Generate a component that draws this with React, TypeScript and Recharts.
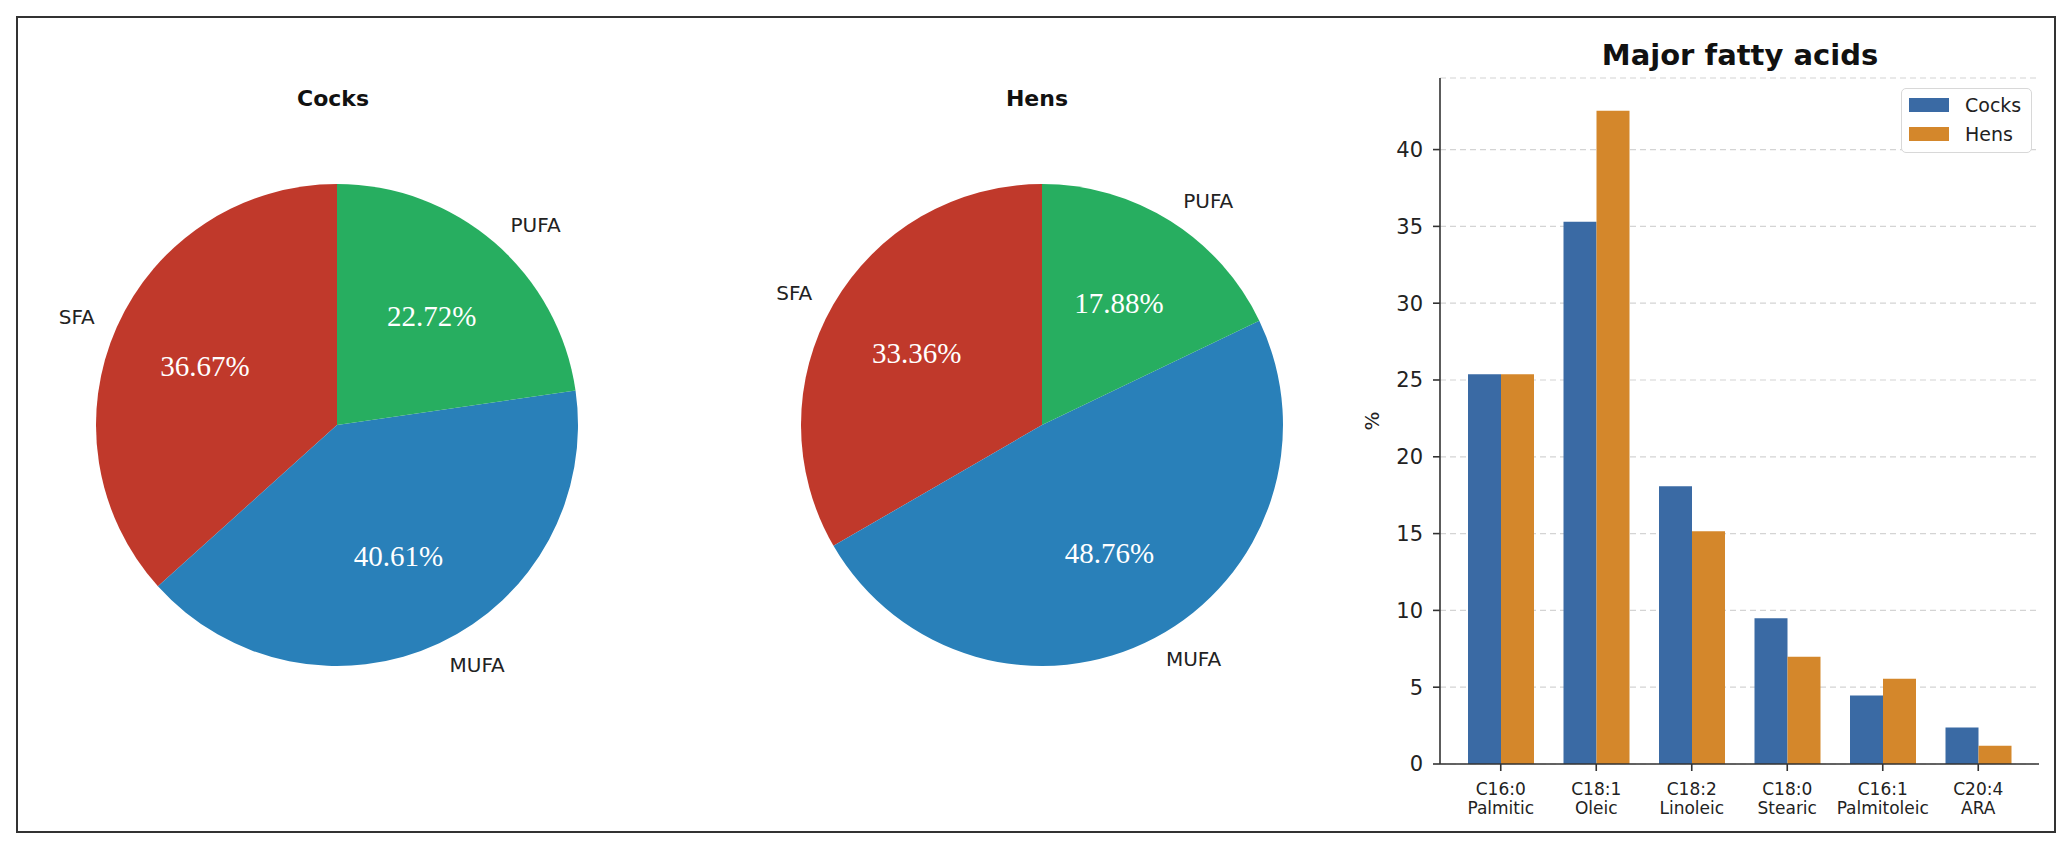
import React from "react";
import { PieChart, Pie, Cell, BarChart, Bar, XAxis, YAxis, CartesianGrid } from "recharts";

// lipid classes (pies)
const groups = ["SFA", "MUFA", "PUFA"];
const cocksShares = [36.67, 40.61, 22.72];
const hensShares = [33.36, 48.76, 17.88];
const groupColors = ["#c0392b", "#2980b9", "#27ae60"];

// major fatty acids (bars)
const acids = ["C16:0\nPalmitic", "C18:1\nOleic", "C18:2\nLinoleic", "C18:0\nStearic", "C16:1\nPalmitoleic", "C20:4\nARA"];
const cocksAcids = [25.37, 35.3, 18.09, 9.49, 4.46, 2.37];
const hensAcids = [25.37, 42.52, 15.15, 6.99, 5.55, 1.18];
const yTicks = [0, 5, 10, 15, 20, 25, 30, 35, 40];

const COCK = "#3a6aa4";
const HEN = "#d4872b";
const SANS = "DejaVu Sans";
const SERIF = "Liberation Serif";
const RAD = Math.PI / 180;

const pieLabel = (p: any) => {
  const { cx, cy, midAngle, outerRadius, value } = p;
  const name = p.payload?.name ?? p.name;
  const c = Math.cos(-midAngle * RAD);
  const s = Math.sin(-midAngle * RAD);
  const ox = cx + outerRadius * 1.1 * c;
  const oy = cy + outerRadius * 1.1 * s;
  const ix = cx + outerRadius * 0.6 * c;
  const iy = cy + outerRadius * 0.6 * s;
  return (
    <g>
      <text x={ox} y={oy} textAnchor={c >= 0 ? "start" : "end"} dominantBaseline="central"
        fontFamily={SANS} fontSize={20} fill="#222">{name}</text>
      <text x={ix} y={iy} textAnchor="middle" dominantBaseline="central"
        fontFamily={SERIF} fontSize={29} fill="#fff">{value.toFixed(2)}%</text>
    </g>
  );
};

const FatPie = ({ shares }: { shares: number[] }) => {
  const data = groups.map((g, i) => ({ name: g, value: shares[i] }));
  return (
    <PieChart width={680} height={846}>
      <Pie data={data} dataKey="value" nameKey="name" cx={332} cy={420} outerRadius={241}
        startAngle={90} endAngle={450} stroke="none" label={pieLabel} labelLine={false}
        isAnimationActive={false}>
        {data.map((d, i) => <Cell key={d.name} fill={groupColors[i]} />)}
      </Pie>
    </PieChart>
  );
};

const AcidTick = ({ x, y, payload }: any) => {
  const [code, name] = String(payload.value).split("\n");
  return (
    <text x={x} y={y} textAnchor="middle" fontFamily={SANS} fontSize={17} fill="#222">
      <tspan x={x} dy={22}>{code}</tspan>
      <tspan x={x} dy={19}>{name}</tspan>
    </text>
  );
};

const PctLabel = (props: any) => {
  const vb = props.viewBox;
  const x = vb.x + 42;
  const y = vb.y + vb.height / 2;
  return (
    <text x={x} y={y} transform={`rotate(-90, ${x}, ${y})`} textAnchor="middle" dominantBaseline="central"
      fontFamily={SANS} fontSize={20} fill="#222">%</text>
  );
};

const title = (cx: number, top: number, size: number): React.CSSProperties => ({
  position: "absolute", left: cx - 200, top, width: 400, textAlign: "center",
  fontFamily: SANS, fontWeight: "bold", fontSize: size, lineHeight: 1, color: "#111",
});

export default function App() {
  const barData = acids.map((a, i) => ({ acid: a, cocks: cocksAcids[i], hens: hensAcids[i] }));
  return (
    <div style={{ position: "relative", width: 2072, height: 846, background: "#fff", overflow: "hidden" }}>
      <style>{`body{margin:0}`}</style>
      <div style={{ position: "absolute", left: 16, top: 16, width: 2040, height: 817, border: "2px solid #333", boxSizing: "border-box" }} />

      <div style={title(333, 88, 22)}>Cocks</div>
      <div style={title(1037, 88, 22)}>Hens</div>
      <div style={title(1740, 41, 29)}>Major fatty acids</div>

      <div style={{ position: "absolute", left: 0, top: 0 }}>
        <FatPie shares={cocksShares} />
      </div>
      <div style={{ position: "absolute", left: 705, top: 0 }}>
        <FatPie shares={hensShares} />
      </div>

      <div style={{ position: "absolute", left: 1330, top: 0 }}>
        <BarChart width={742} height={846} data={barData} barGap={0}
          margin={{ top: 78, right: 33, bottom: 22, left: 0 }}>
          <CartesianGrid vertical={false} stroke="#d4d4d4" strokeDasharray="6 4" strokeWidth={1.2} />
          <XAxis dataKey="acid" interval={0} height={60} tick={<AcidTick />} tickSize={7}
            padding={{ left: 13, right: 13 }} axisLine={{ stroke: "#333", strokeWidth: 1.6 }}
            tickLine={{ stroke: "#333", strokeWidth: 1.6 }} />
          <YAxis type="number" domain={[0, 44.66]} ticks={yTicks} width={110} tickSize={7} tickMargin={10}
            tick={{ fontFamily: SANS, fontSize: 21, fill: "#222" }}
            axisLine={{ stroke: "#333", strokeWidth: 1.6 }} tickLine={{ stroke: "#333", strokeWidth: 1.6 }}
            label={PctLabel} />
          <Bar dataKey="cocks" name="Cocks" fill={COCK} barSize={33} isAnimationActive={false} />
          <Bar dataKey="hens" name="Hens" fill={HEN} barSize={33} isAnimationActive={false} />
        </BarChart>
      </div>

      <div style={{ position: "absolute", left: 1901, top: 88, width: 131, height: 65, boxSizing: "border-box",
        border: "1px solid #d8d8d8", borderRadius: 5, background: "#fff", fontFamily: SANS, fontSize: 19, color: "#222" }}>
        {[["Cocks", COCK], ["Hens", HEN]].map(([n, c], i) => (
          <div key={n} style={{ position: "absolute", left: 7, top: 9 + i * 29, height: 14, display: "flex", alignItems: "center" }}>
            <span style={{ width: 40, height: 14, background: c, display: "inline-block" }} />
            <span style={{ marginLeft: 16, lineHeight: 1 }}>{n}</span>
          </div>
        ))}
      </div>
    </div>
  );
}
